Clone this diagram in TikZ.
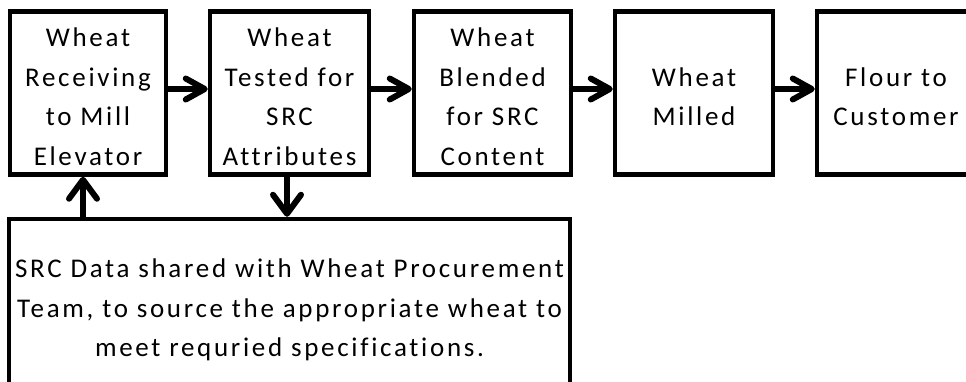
\documentclass[tikz,border=0pt]{standalone}
\usepackage{fontspec}
\setmainfont{Carlito}[LetterSpace=10,Ligatures=NoCommon]
\usetikzlibrary{arrows.meta}
\newcommand{\toppad}{\rule{0pt}{26pt}}
\begin{document}
\begin{tikzpicture}[x=1pt,y=-1pt,
  box/.style={draw=black,line width=4.5pt,fill=white,align=center,inner sep=0pt,
    font=\fontsize{27}{39.5}\selectfont},
  flow/.style={line width=6pt,-{Straight Barb[length=19pt,width=21pt,line width=6pt,round]}},
  vflow/.style={line width=6pt,-{Straight Barb[length=19pt,width=28pt,line width=6pt,round]}}]
\useasboundingbox[clip] (0,0) rectangle (966,381);
\fill[white] (0,0) rectangle (966,381);
\node[box,minimum width=156pt,minimum height=163pt] (b1) at (88,93) {\toppad Wheat\\Receiving\\to Mill\\Elevator};
\node[box,minimum width=159pt,minimum height=163pt] (b2) at (289.5,93) {\toppad Wheat\\Tested for\\SRC\\Attributes};
\node[box,minimum width=157pt,minimum height=163pt] (b3) at (492.5,93) {\toppad Wheat\\Blended\\for SRC\\Content};
\node[box,minimum width=158pt,minimum height=163pt] (b4) at (694,93) {\toppad Wheat\\Milled};
\node[box,minimum width=158pt,minimum height=163pt] (b5) at (896,93) {\toppad Flour to\\Customer};
\node[box,minimum width=561pt,minimum height=182pt] (b6) at (289.5,310) {SRC Data shared with Wheat Procurement\\Team, to source the appropriate wheat to\\meet requried specifications.};
\draw[flow] (b1.east |- 0,89) -- (b2.west |- 0,89);
\draw[flow] (b2.east |- 0,89) -- (b3.west |- 0,89);
\draw[flow] (b3.east |- 0,89) -- (b4.west |- 0,89);
\draw[flow] (b4.east |- 0,89) -- (b5.west |- 0,89);
\draw[vflow] (b6.north -| 83,0) -- (b1.south -| 83,0);
\draw[vflow] (b2.south -| 287,0) -- (b6.north -| 287,0);
\end{tikzpicture}
\end{document}
